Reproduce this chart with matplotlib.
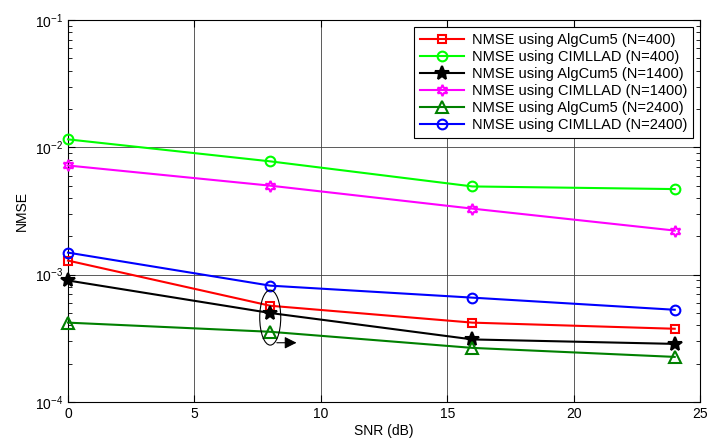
import matplotlib
matplotlib.use("Agg")
import matplotlib.pyplot as plt
from matplotlib.patches import Ellipse
from matplotlib.transforms import ScaledTranslation

plt.rcParams['font.family'] = ['Liberation Sans', 'DejaVu Sans']

snr = [0, 8, 16, 24]
alg_400 = [0.00129, 0.00057, 0.00042, 0.000376]
cim_400 = [0.01155, 0.00776, 0.00493, 0.0047]
alg_1400 = [0.0009, 0.0005, 0.00031, 0.000286]
cim_1400 = [0.0072, 0.0050, 0.0033, 0.00222]
alg_2400 = [0.00042, 0.000356, 0.000266, 0.000226]
cim_2400 = [0.00149, 0.00082, 0.00066, 0.00053]

labels = ['NMSE using AlgCum5 (N=400)', 'NMSE using CIMLLAD (N=400)',
          'NMSE using AlgCum5 (N=1400)', 'NMSE using CIMLLAD (N=1400)',
          'NMSE using AlgCum5 (N=2400)', 'NMSE using CIMLLAD (N=2400)']

fig = plt.figure(figsize=(7.08, 4.42), dpi=100)
ax = fig.add_axes([68/708, 1 - 402/442, (700-68)/708, (402-20)/442])

series = [
    (alg_400, 'red', 's', 6),
    (cim_400, '#00ff00', 'o', 7),
    (alg_1400, 'black', '*', 10),
    (cim_1400, 'magenta', (6, 1, 0), 8),
    (alg_2400, 'green', '^', 8),
    (cim_2400, 'blue', 'o', 7),
]
for (vals, c, m, ms), lab in zip(series, labels):
    mfc = c if m in ('*',) else 'none'
    ax.plot(snr, vals, color=c, marker=m, markersize=ms, markerfacecolor=mfc,
            markeredgecolor=c, markeredgewidth=1.5, linewidth=1.5, label=lab,
            clip_on=False, zorder=3)

ax.set_yscale('log')
ax.set_xlim(0, 25)
ax.set_ylim(1e-4, 1e-1)
ax.set_xticks([0, 5, 10, 15, 20, 25])
ax.grid(True, which='major', color='#404040', linewidth=0.6)
ax.tick_params(which='both', direction='in', top=True, right=True, labelsize=10)
ax.tick_params(which='major', length=5)
ax.tick_params(which='minor', length=3)
for s in ax.spines.values():
    s.set_linewidth(0.8)
ax.set_xlabel('SNR (dB)', fontsize=10, labelpad=2)
ax.set_ylabel('NMSE', fontsize=10)

leg = ax.legend(loc='upper right', fontsize=10.5, fancybox=False, framealpha=1,
                edgecolor='black', borderaxespad=0.45, handlelength=3.0,
                labelspacing=0.2, borderpad=0.45, handletextpad=0.5)
leg.get_frame().set_linewidth(0.8)
leg.set_zorder(5)

# ellipse annotation
tr = fig.dpi_scale_trans + ScaledTranslation(8, 4.6e-4, ax.transData)
ax.add_patch(Ellipse((0, 0), width=0.21, height=0.55, transform=tr,
                     fill=False, edgecolor='black', linewidth=0.8, zorder=4))
ax.annotate('', xy=(9.15, 2.92e-4), xytext=(8.15, 2.92e-4),
            arrowprops=dict(arrowstyle='-|>', color='black', lw=0.8,
                            mutation_scale=18), zorder=4)

fig.savefig('out.png', dpi=100)
